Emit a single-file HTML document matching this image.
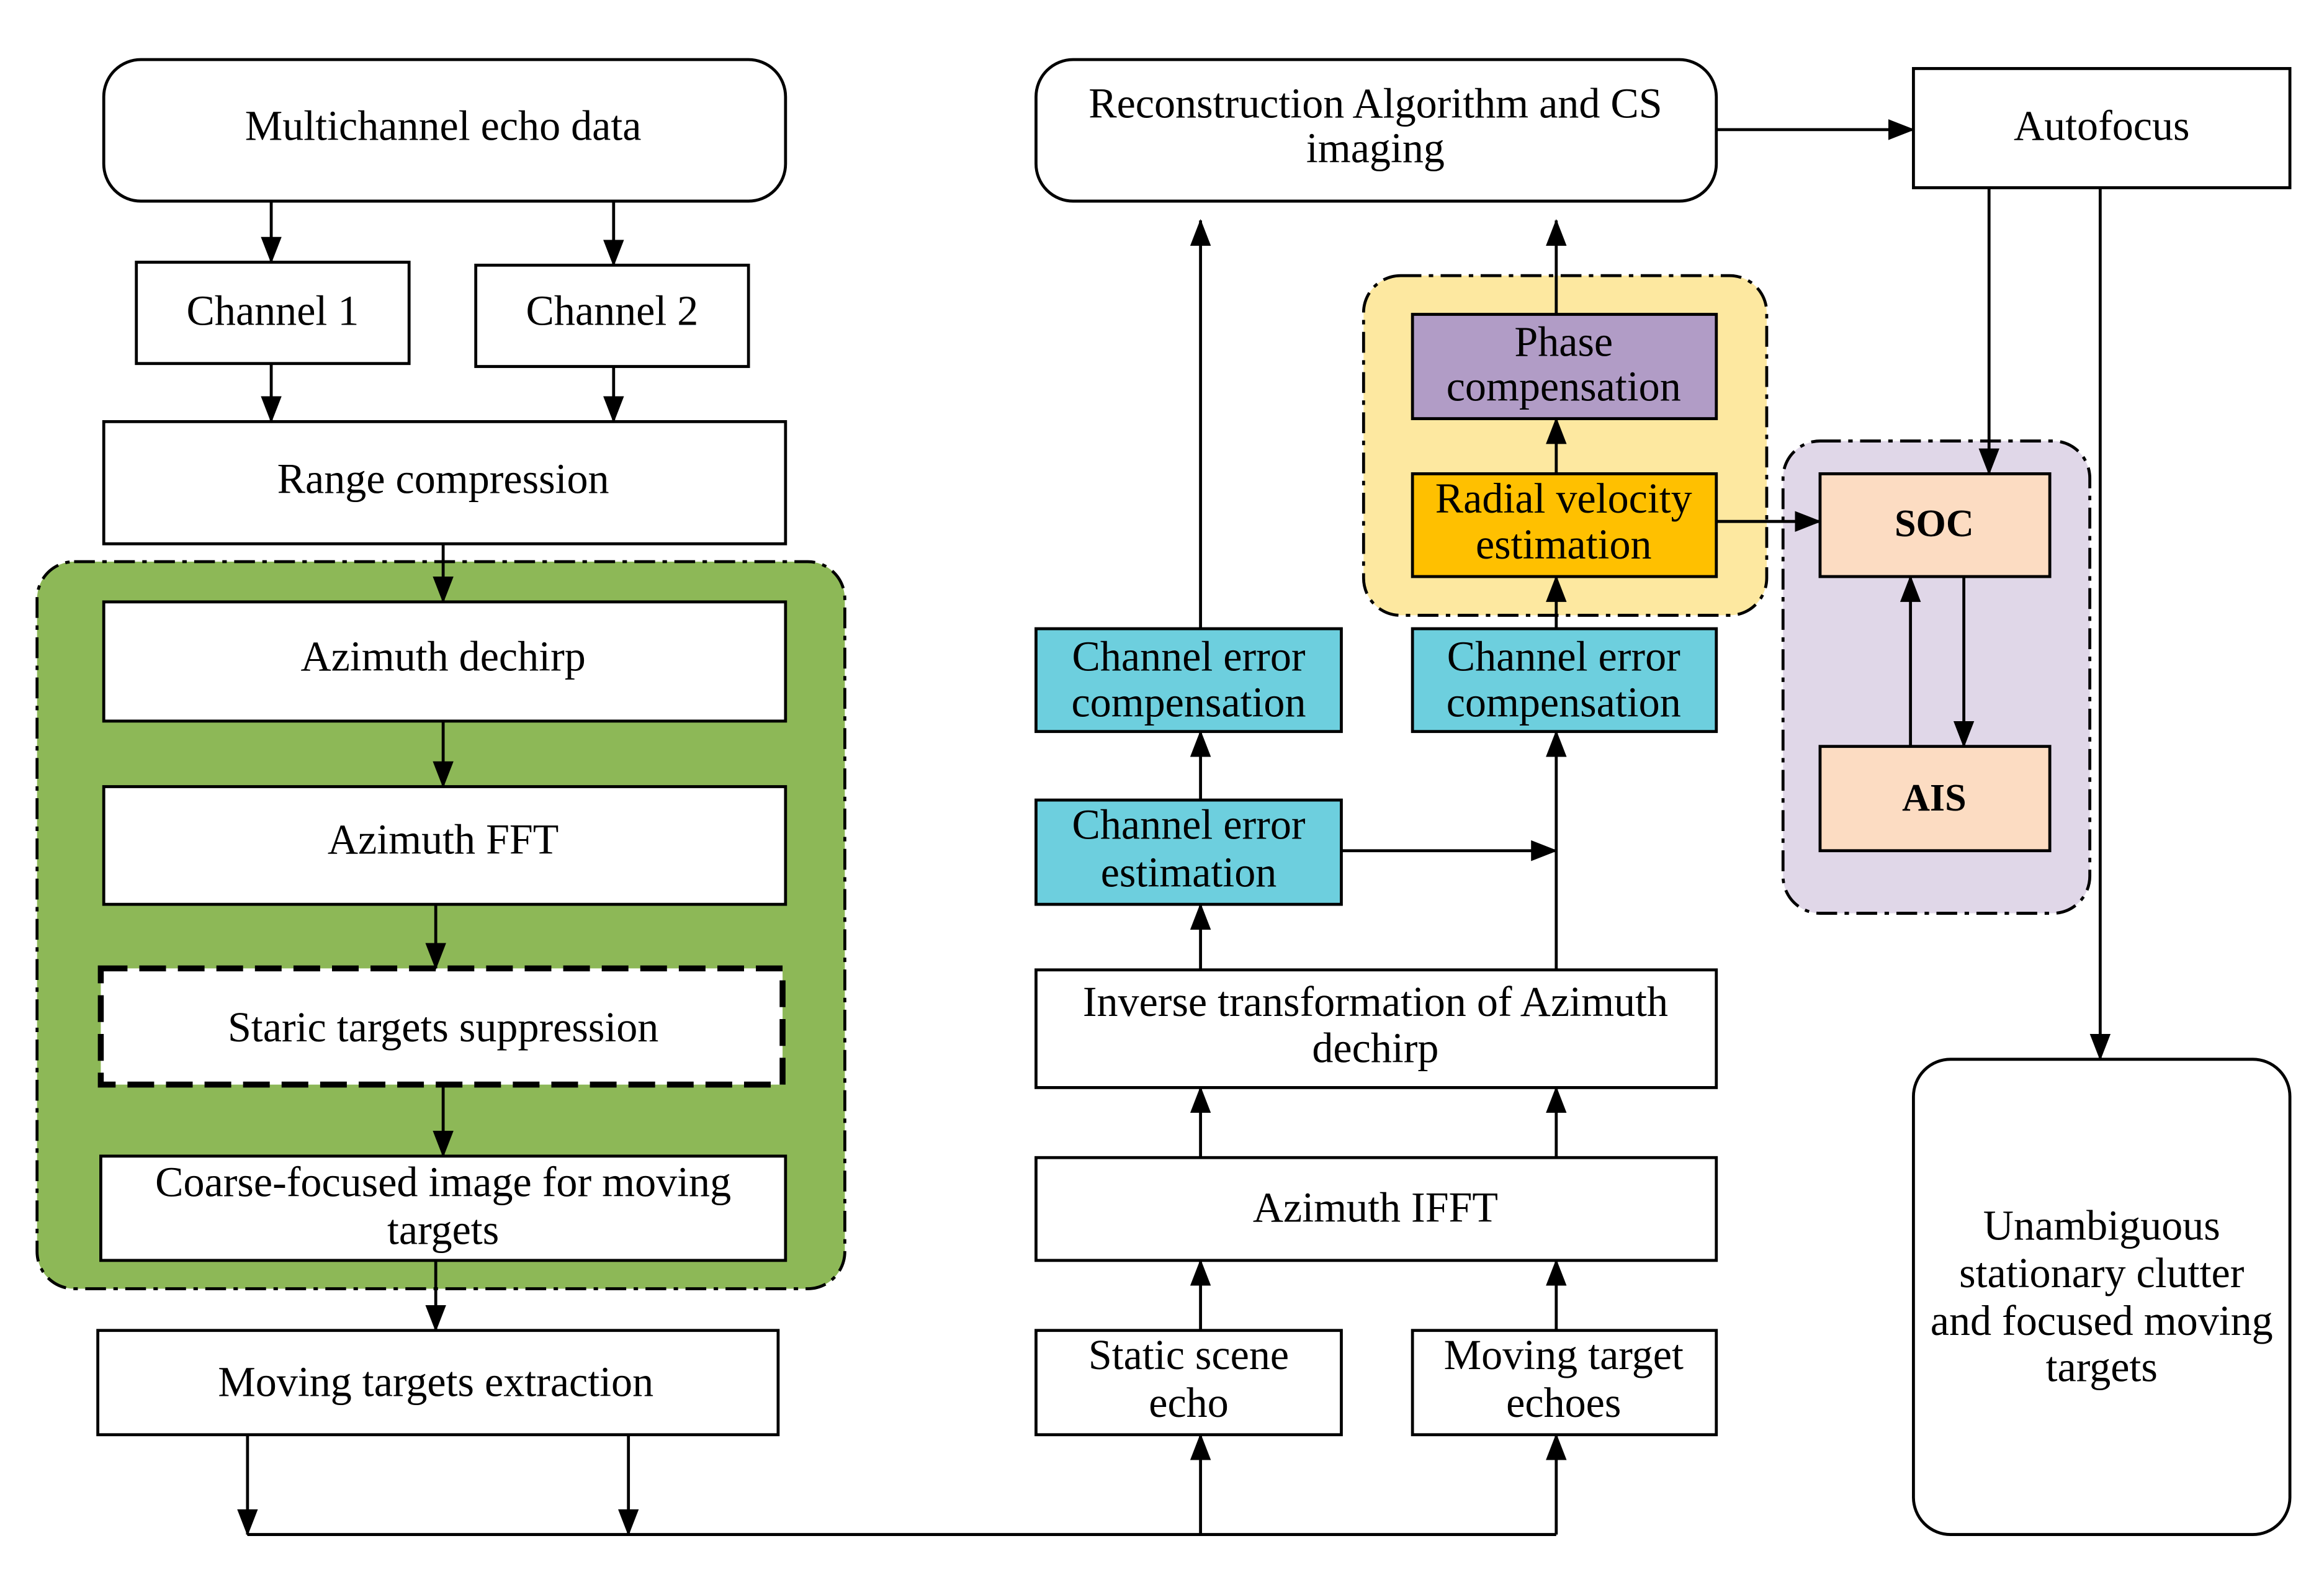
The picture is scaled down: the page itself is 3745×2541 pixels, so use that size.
<!DOCTYPE html>
<html><head><meta charset="utf-8"><style>
html,body{margin:0;padding:0;background:#fff;}
svg{display:block;}
text{font-family:"Liberation Serif",serif;font-size:28.5px;fill:#000;text-anchor:middle;}
</style></head><body>
<svg width="3745" height="2541" viewBox="0 0 1568 1058.5" preserveAspectRatio="none" xmlns="http://www.w3.org/2000/svg">
<defs>
<marker id="b" markerWidth="18" markerHeight="18" refX="17" refY="9" orient="auto" markerUnits="userSpaceOnUse">
<path d="M0,2 L18,9 L0,16 z" fill="#000"/>
</marker>
</defs>
<rect width="1568" height="1058.5" fill="#fff"/>
<g stroke="#000" stroke-width="2" fill="#fff">
<rect x="70" y="40" width="460" height="95" rx="25"/>
<rect x="92" y="176" width="184" height="68"/>
<rect x="321" y="178" width="184" height="68"/>
<rect x="70" y="283" width="460" height="82"/>
<rect x="25" y="377" width="545" height="488" rx="25" fill="#8db857" stroke-dasharray="14,5,3,5"/>
<rect x="70" y="404" width="460" height="80"/>
<rect x="70" y="528" width="460" height="79"/>
<rect x="68" y="650" width="460" height="78" stroke-width="4" stroke-dasharray="18,8"/>
<rect x="68" y="776" width="462" height="70"/>
<rect x="66" y="893" width="459" height="70"/>
<rect x="699" y="40" width="459" height="95" rx="25"/>
<rect x="699" y="893" width="206" height="70"/>
<rect x="953" y="893" width="205" height="70"/>
<rect x="699" y="777" width="459" height="69"/>
<rect x="699" y="651" width="459" height="79"/>
<rect x="699" y="537" width="206" height="70" fill="#6dcfde"/>
<rect x="699" y="422" width="206" height="69" fill="#6dcfde"/>
<rect x="953" y="422" width="205" height="69" fill="#6dcfde"/>
<rect x="920" y="185" width="272" height="228" rx="25" fill="#fde8a0" stroke-dasharray="14,5,3,5"/>
<rect x="953" y="318" width="205" height="69" fill="#ffc000"/>
<rect x="953" y="211" width="205" height="70" fill="#b19cc6"/>
<rect x="1291" y="46" width="254" height="80"/>
<rect x="1203" y="296" width="207" height="317" rx="25" fill="#e0d7e8" stroke-dasharray="14,5,3,5"/>
<rect x="1228" y="318" width="155" height="69" fill="#fcdcc2"/>
<rect x="1228" y="501" width="155" height="70" fill="#fcdcc2"/>
<rect x="1291" y="711" width="254" height="319" rx="25"/>
</g>
<g stroke="#000" stroke-width="2" fill="none" marker-end="url(#b)">
<line x1="183" y1="136" x2="183" y2="176"/>
<line x1="414" y1="136" x2="414" y2="178"/>
<line x1="183" y1="244" x2="183" y2="283"/>
<line x1="414" y1="246" x2="414" y2="283"/>
<line x1="299" y1="365" x2="299" y2="404"/>
<line x1="299" y1="484" x2="299" y2="528"/>
<line x1="294" y1="607" x2="294" y2="650"/>
<line x1="299" y1="728" x2="299" y2="776"/>
<line x1="294" y1="846" x2="294" y2="893"/>
<line x1="167" y1="963" x2="167" y2="1030"/>
<line x1="424" y1="963" x2="424" y2="1030"/>
<line x1="810" y1="1030" x2="810" y2="963"/>
<line x1="1050" y1="1030" x2="1050" y2="963"/>
<line x1="810" y1="893" x2="810" y2="846"/>
<line x1="1050" y1="893" x2="1050" y2="846"/>
<line x1="810" y1="777" x2="810" y2="730"/>
<line x1="1050" y1="777" x2="1050" y2="730"/>
<line x1="810" y1="651" x2="810" y2="607"/>
<line x1="1050" y1="651" x2="1050" y2="491"/>
<line x1="905" y1="571" x2="1050" y2="571"/>
<line x1="810" y1="537" x2="810" y2="491"/>
<line x1="810" y1="422" x2="810" y2="148"/>
<line x1="1050" y1="422" x2="1050" y2="387"/>
<line x1="1050" y1="318" x2="1050" y2="281"/>
<line x1="1050" y1="211" x2="1050" y2="148"/>
<line x1="1158" y1="87" x2="1291" y2="87"/>
<line x1="1158" y1="350" x2="1228" y2="350"/>
<line x1="1342" y1="126" x2="1342" y2="318"/>
<line x1="1289" y1="501" x2="1289" y2="387"/>
<line x1="1325" y1="387" x2="1325" y2="501"/>
<line x1="1417" y1="126" x2="1417" y2="711"/>
</g>
<line x1="167" y1="1030" x2="1050" y2="1030" stroke="#000" stroke-width="2"/>
<g>
<text x="299" y="94">Multichannel echo data</text>
<text x="184" y="218">Channel 1</text>
<text x="413" y="218">Channel 2</text>
<text x="299" y="331">Range compression</text>
<text x="299" y="450">Azimuth dechirp</text>
<text x="299" y="573">Azimuth FFT</text>
<text x="299" y="699">Staric targets suppression</text>
<text x="299" y="803">Coarse-focused image for moving</text>
<text x="299" y="835">targets</text>
<text x="294" y="937">Moving targets extraction</text>
<text x="928" y="79">Reconstruction Algorithm and CS</text>
<text x="928" y="109">imaging</text>
<text x="1055" y="239">Phase</text>
<text x="1055" y="269">compensation</text>
<text x="1055" y="344">Radial velocity</text>
<text x="1055" y="375">estimation</text>
<text x="802" y="450">Channel error</text>
<text x="802" y="481">compensation</text>
<text x="1055" y="450">Channel error</text>
<text x="1055" y="481">compensation</text>
<text x="802" y="563">Channel error</text>
<text x="802" y="595">estimation</text>
<text x="928" y="682">Inverse transformation of Azimuth</text>
<text x="928" y="713">dechirp</text>
<text x="928" y="820">Azimuth IFFT</text>
<text x="802" y="919">Static scene</text>
<text x="802" y="951">echo</text>
<text x="1055" y="919">Moving target</text>
<text x="1055" y="951">echoes</text>
<text x="1418" y="94">Autofocus</text>
<text x="1305" y="360" style="font-weight:bold;font-size:26px">SOC</text>
<text x="1305" y="544" style="font-weight:bold;font-size:26px">AIS</text>
<text x="1418" y="832">Unambiguous</text>
<text x="1418" y="864">stationary clutter</text>
<text x="1418" y="896">and focused moving</text>
<text x="1418" y="927">targets</text>
</g>
</svg>
</body></html>
